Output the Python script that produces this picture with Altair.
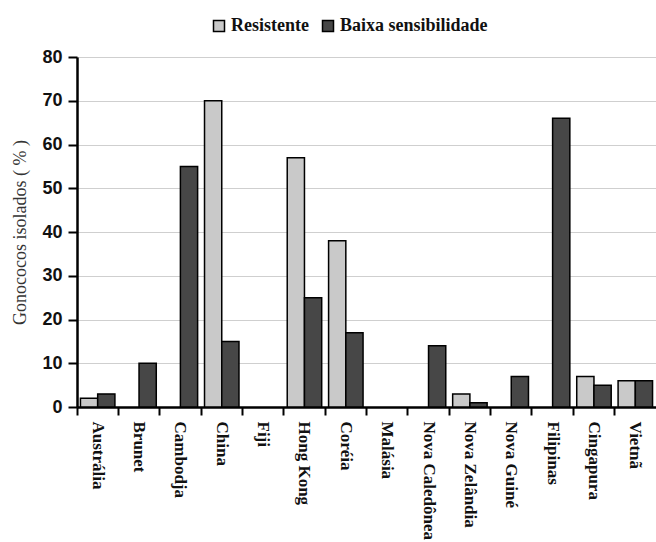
import altair as alt
import pandas as pd

countries = ["Austrália", "Brunet", "Cambodja", "China", "Fiji", "Hong Kong", "Coréia",
             "Malásia", "Nova Caledônea", "Nova Zelândia", "Nova Guiné", "Filipinas",
             "Cingapura", "Vietnã"]
resistente = [2, 0, 0, 70, 0, 57, 38, 0, 0, 3, 0, 0, 7, 6]
baixa = [3, 10, 55, 15, 0, 25, 17, 0, 14, 1, 7, 66, 5, 6]
series = ["Resistente", "Baixa sensibilidade"]
colors = ["#c9c9c9", "#474747"]
y_ticks = [0, 10, 20, 30, 40, 50, 60, 70, 80]

rows = []
for i, c in enumerate(countries):
    rows.append({"pais": c, "serie": series[0], "valor": resistente[i]})
    rows.append({"pais": c, "serie": series[1], "valor": baixa[i]})
df = pd.DataFrame(rows)

W, H = 579, 350

chart = alt.Chart(df).transform_filter(
    alt.datum.valor > 0
).mark_bar(stroke="black", strokeWidth=1.5).encode(
    x=alt.X("pais:N", sort=countries,
            scale=alt.Scale(domain=countries, paddingInner=0, paddingOuter=0),
            axis=alt.Axis(title=None, bandPosition=0,
                          labelAngle=90, labelAlign="left", labelBaseline="middle",
                          labelPadding=6, labelFont="Liberation Serif",
                          labelFontWeight="bold", labelFontSize=17, labelColor="#111",
                          tickColor="black", tickWidth=2, tickSize=8,
                          domainColor="black", domainWidth=2.5, grid=False,
                          labelLimit=200)),
    xOffset=alt.XOffset("serie:N", sort=series,
                        scale=alt.Scale(domain=series, paddingInner=0, paddingOuter=0.2)),
    y=alt.Y("valor:Q", scale=alt.Scale(domain=[0, 80], nice=False),
            axis=alt.Axis(title="Gonococos isolados ( % )", values=y_ticks,
                          titleFont="Liberation Serif", titleFontWeight="normal",
                          titleFontSize=18, titleColor="#333", titlePadding=12,
                          labelFont="Liberation Sans", labelFontWeight="bold",
                          labelFontSize=18, labelColor="#111", labelPadding=6,
                          tickColor="black", tickWidth=2, tickSize=9,
                          domainColor="black", domainWidth=2.5,
                          grid=True, gridColor="#cfcfcf", gridWidth=1)),
    color=alt.Color("serie:N", sort=series,
                    scale=alt.Scale(domain=series, range=colors),
                    legend=alt.Legend(title=None, orient="none", direction="horizontal",
                                      legendX=133, legendY=-40,
                                      symbolType="square", symbolSize=121,
                                      symbolStrokeColor="black", symbolStrokeWidth=1.5,
                                      labelFont="Liberation Serif", labelFontWeight="bold",
                                      labelFontSize=18, labelColor="#111",
                                      labelOffset=3, columnPadding=10)),
).properties(
    width=W, height=H,
    autosize=alt.AutoSizeParams(type="none"),
    padding={"left": 77, "top": 57, "right": 0, "bottom": 135},
).configure_view(
    fill="#e3e1e1", stroke=None
).configure(background="white")

chart.save("out.html", embed_options={"renderer": "svg", "actions": False})
